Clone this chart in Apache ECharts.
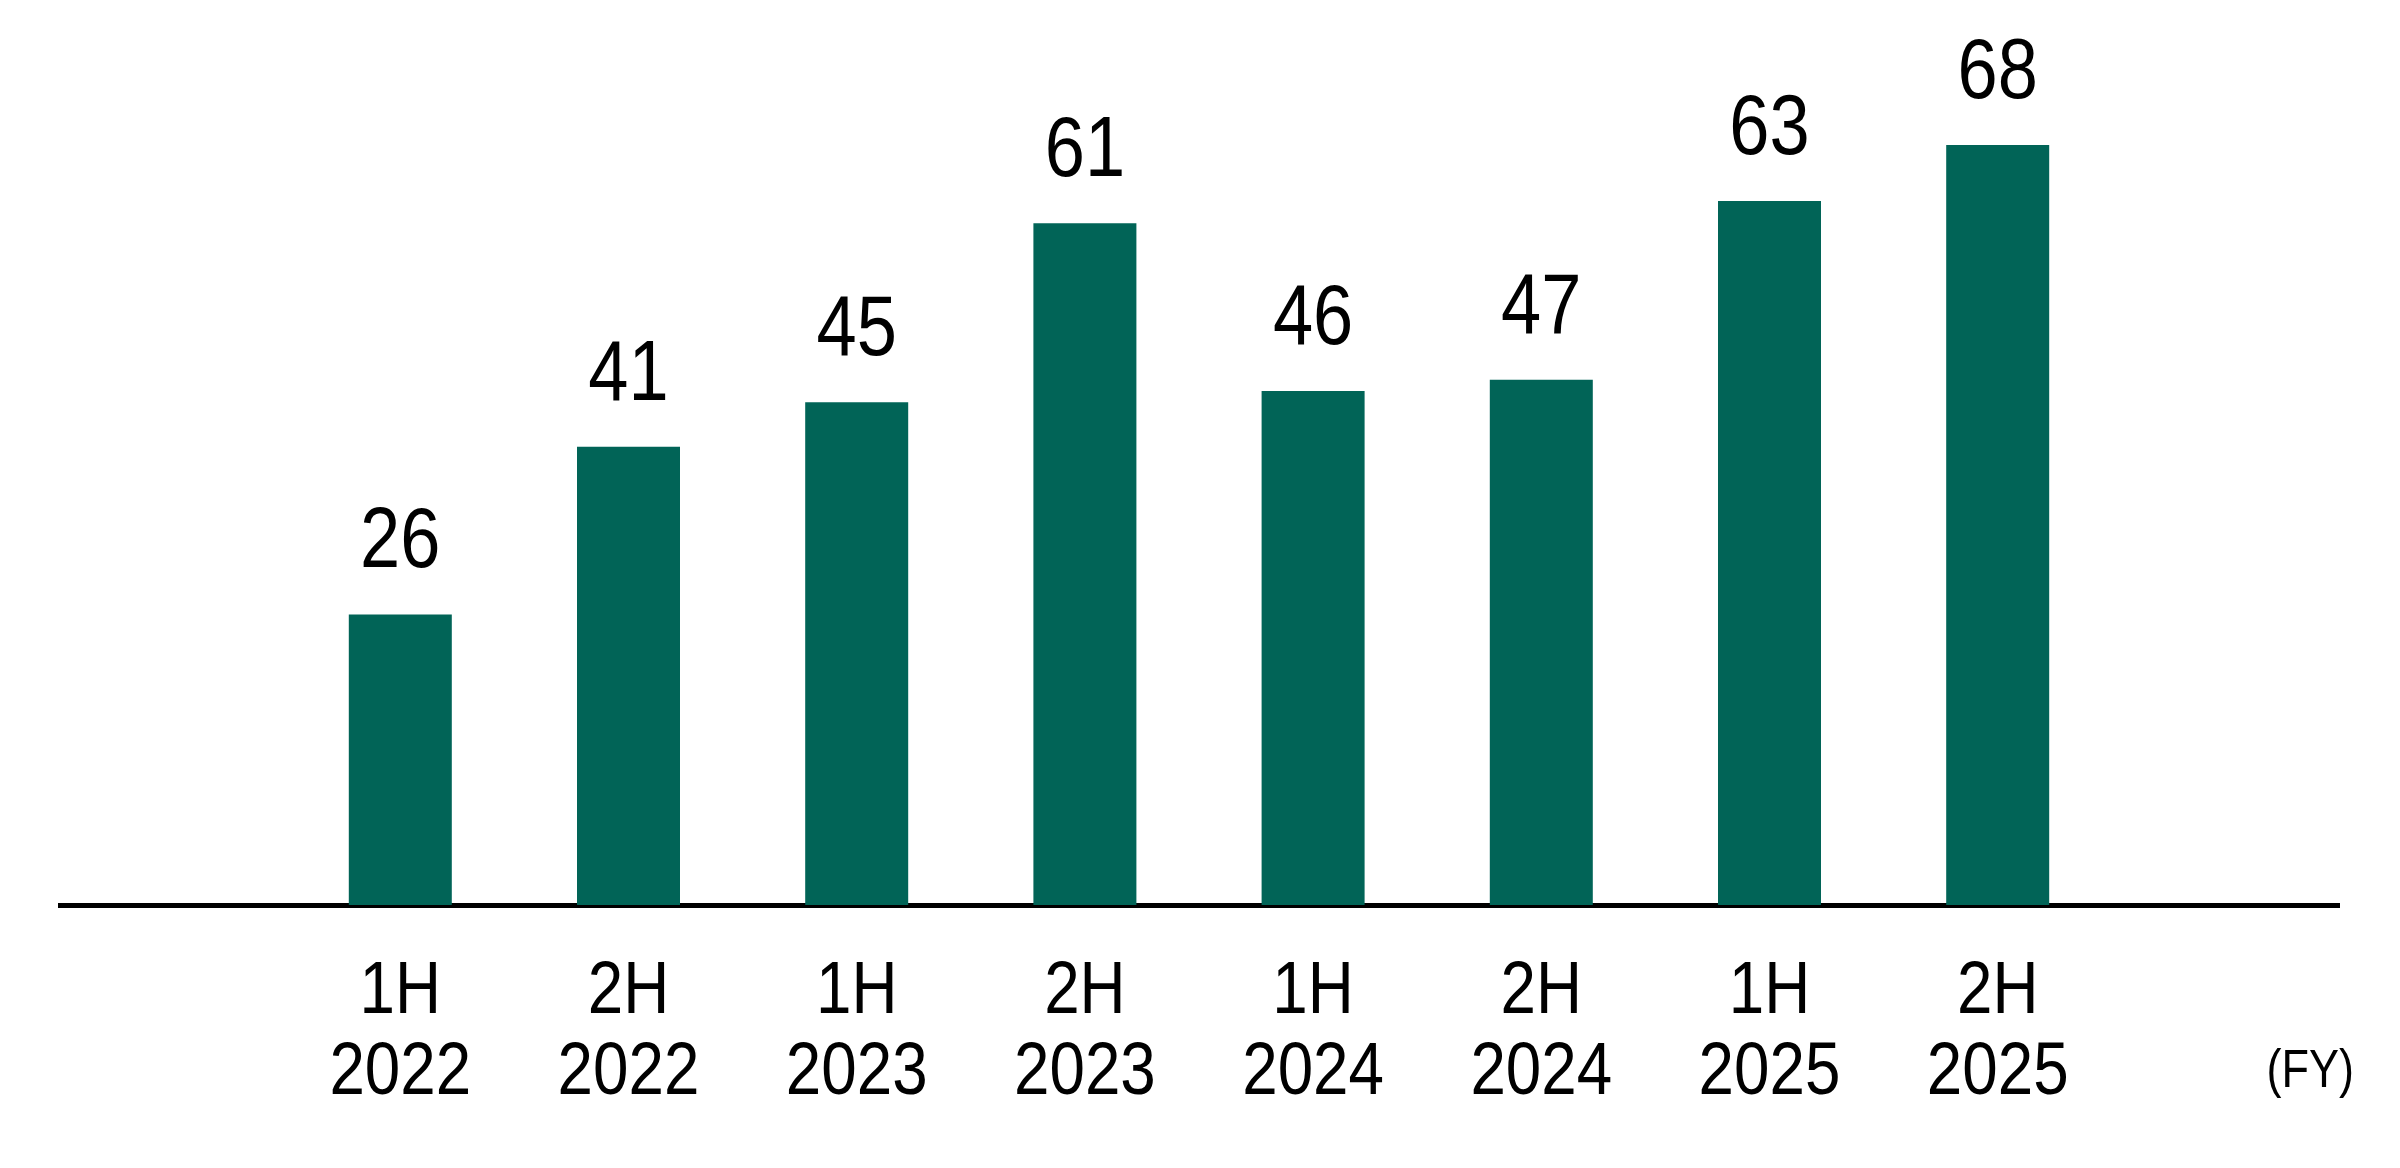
<!DOCTYPE html>
<html>
<head>
<meta charset="utf-8">
<style>
  html, body { margin: 0; padding: 0; background: #ffffff; }
  #chart { width: 2400px; height: 1168px; }
</style>
<script src="https://cdn.jsdelivr.net/npm/echarts@6/dist/echarts.min.js"></script>
</head>
<body>
<div id="chart"></div>
<script>
  // Half-year periods, padded with an empty slot at each end of the axis
  const periods = ['', '1H\n2022', '2H\n2022', '1H\n2023', '2H\n2023', '1H\n2024', '2H\n2024', '1H\n2025', '2H\n2025', ''];
  const values = [null, 26, 41, 45, 61, 46, 47, 63, 68, null];
  const unitLabel = '(FY)';

  const FONT = '"Liberation Sans", Arial, sans-serif';
  const BAR_COLOR = '#016457';
  // the source uses a condensed face; squeeze the text horizontally to get close
  const NARROW = 0.85;

  const chart = echarts.init(document.getElementById('chart'), null, { renderer: 'canvas' });

  chart.setOption({
    animation: false,
    backgroundColor: '#ffffff',
    grid: { left: 58, right: 60, top: 11, bottom: 263, containLabel: false },
    xAxis: {
      type: 'category',
      data: periods,
      axisLine: { show: true, lineStyle: { color: '#000000', width: 5, cap: 'butt' } },
      axisTick: { show: false },
      axisLabel: {
        interval: 0,
        margin: 47,
        color: '#000000',
        fontFamily: FONT,
        fontSize: 75,
        lineHeight: 81
      }
    },
    yAxis: {
      type: 'value',
      min: 0,
      max: 80,
      show: false,
      splitLine: { show: false }
    },
    series: [{
      type: 'bar',
      data: values,
      barWidth: 103,
      itemStyle: { color: BAR_COLOR },
      label: {
        show: true,
        position: 'top',
        distance: 28,
        color: '#000000',
        fontFamily: FONT,
        fontSize: 85
      }
    }],
    graphic: [{
      type: 'text',
      id: 'unit',
      x: 2354,
      y: 1072,
      style: {
        text: unitLabel,
        fill: '#000000',
        font: '53px ' + FONT,
        align: 'right',
        verticalAlign: 'middle'
      }
    }]
  });

  function narrowText() {
    const zr = chart.getZr();
    const squeeze = (el) => {
      if (!el || el.__narrowed) {
        return;
      }
      el.__narrowed = true;
      el.scaleX = NARROW;
      el.markRedraw();
    };
    zr.storage.getRoots().forEach((root) => {
      const visit = (el) => {
        if (el.type === 'text') {
          squeeze(el);
        }
        if (el.getTextContent && el.getTextContent()) {
          squeeze(el.getTextContent());
        }
      };
      visit(root);
      if (root.traverse) {
        root.traverse(visit);
      }
    });
    zr.refreshImmediately();
  }

  narrowText();

  window.addEventListener('resize', () => {
    chart.resize();
    narrowText();
  });
</script>
</body>
</html>
